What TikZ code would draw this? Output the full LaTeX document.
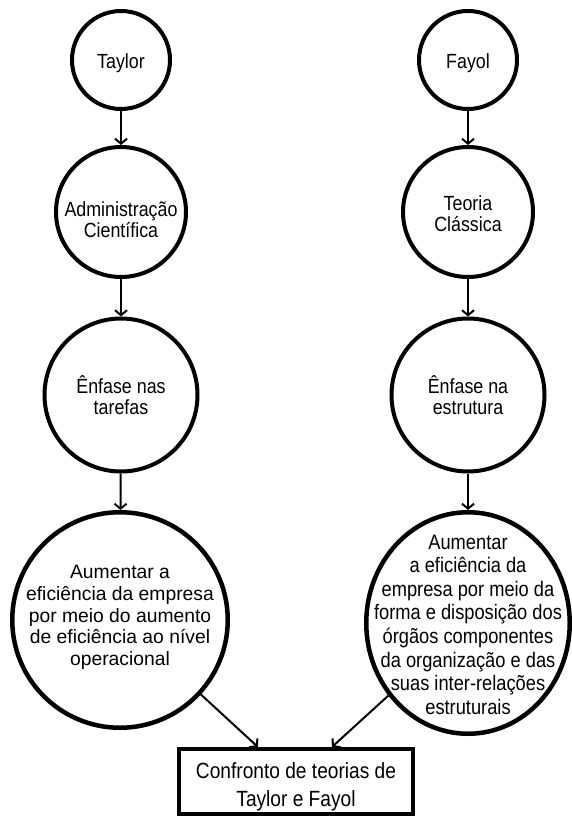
\documentclass[tikz,border=0pt]{standalone}
\usepackage{fontspec}
\setmainfont{Liberation Sans}
\newfontfamily\cfont[FakeStretch=0.87]{Liberation Sans}
\usetikzlibrary{arrows.meta,calc,shapes.geometric}
\begin{document}
\begin{tikzpicture}[x=1pt,y=-1pt,
  bub/.style={circle,draw,line width=4pt,inner sep=0pt},
  arr/.style={line width=2pt,-{Straight Barb[length=5pt,width=12pt]}},
  lbl/.style={align=center,inner sep=0pt},
  smallf/.style={font=\cfont\fontsize{20.5}{20.8}\selectfont},
  leftf/.style={font=\fontsize{19.3}{21.7}\selectfont},
  rightf/.style={font=\cfont\fontsize{21}{23.6}\selectfont},
  boxf/.style={font=\cfont\fontsize{22}{28}\selectfont}]
\useasboundingbox (0,0) rectangle (571,818);

% left column
\node[bub,minimum size=98pt,
  label={[lbl,smallf,yshift=-3.5pt]center:{Taylor}}] (T) at (121,60) {};
\node[bub,minimum size=130pt,
  label={[lbl,smallf,yshift=-8pt]center:{Administração\\Científica}}] (AC) at (121,212) {};
\node[bub,minimum size=153pt,
  label={[lbl,smallf,yshift=0pt]center:{Ênfase nas\\tarefas}}] (ET) at (121,395) {};
\node[bub,line width=4.5pt,minimum size=215.5pt,
  label={[lbl,leftf,yshift=2.5pt]center:{Aumentar a\\eficiência da empresa\\por meio do aumento\\de eficiência ao nível\\operacional}}] (L4) at (120,620) {};

% right column
\node[bub,minimum size=98pt,
  label={[lbl,smallf,yshift=-3.5pt]center:{Fayol}}] (F) at (468,60) {};
\node[bub,minimum size=130pt,
  label={[lbl,smallf,yshift=-2pt]center:{Teoria\\Clássica}}] (TC) at (468,212) {};
\node[bub,minimum size=153pt,
  label={[lbl,smallf,yshift=0pt]center:{Ênfase na\\estrutura}}] (EE) at (468,395) {};
\node[ellipse,draw,line width=4.5pt,inner sep=0pt,minimum width=203.5pt,minimum height=221.5pt,
  label={[lbl,rightf,yshift=-1.5pt]center:{Aumentar\\a eficiência da\\empresa por meio da\\forma e disposição dos\\órgãos componentes\\da organização e das\\suas inter-relações\\estruturais}}] (R4) at (468,623) {};

% bottom box
\node[draw,line width=4pt,inner sep=0pt,minimum width=234pt,minimum height=65pt,
  label={[lbl,boxf,yshift=-5.5pt]center:{Confronto de teorias de\\Taylor e Fayol}}] (C) at (296,781.5) {};

\coordinate (tipL) at ($(C.north west)!0.34!(C.north east)$);
\coordinate (tipR) at ($(C.north west)!0.651!(C.north east)$);

% connectors
\draw[arr] (T) -- (AC);
\draw[arr] (AC) -- (ET);
\draw[arr] (ET) -- (L4);
\draw[arr] (F) -- (TC);
\draw[arr] (TC) -- (EE);
\draw[arr] (EE) -- (R4);
\draw[arr] (L4) -- (tipL);
\draw[arr] (R4) -- (tipR);
\end{tikzpicture}
\end{document}
